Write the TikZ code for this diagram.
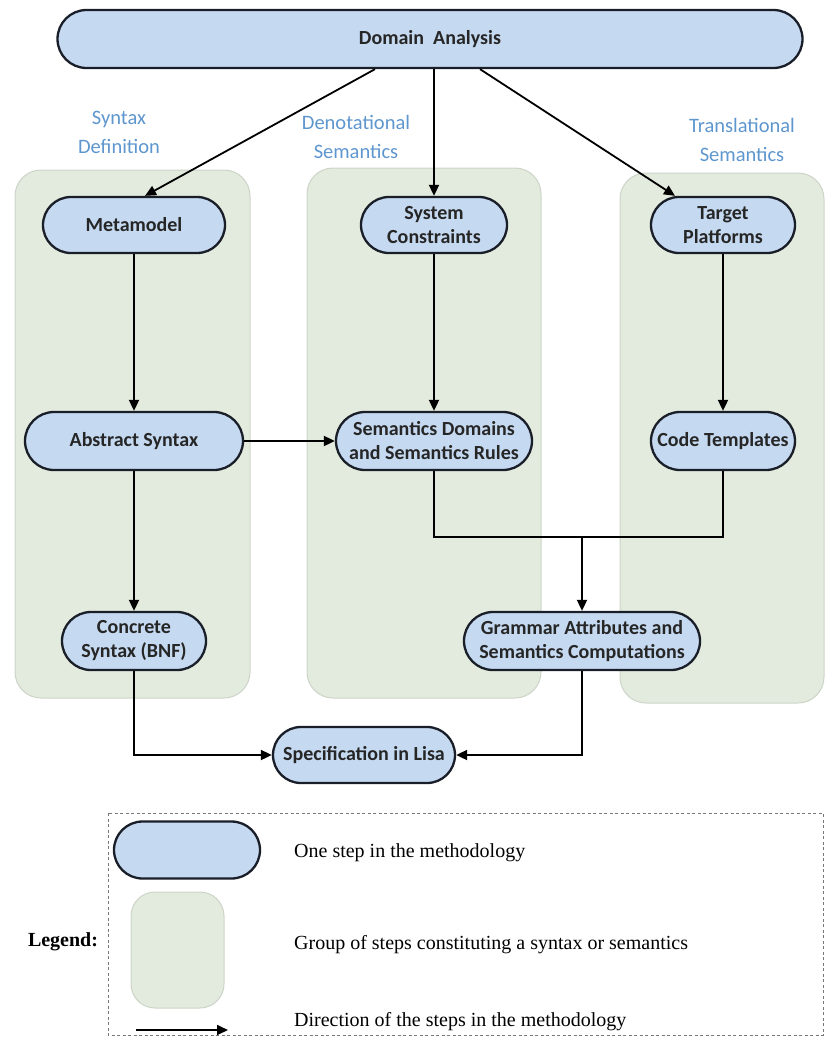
\documentclass[tikz,border=0pt]{standalone}
\usepackage{fontspec}
\setmainfont{Liberation Serif}
\newfontfamily\stepfont{Carlito}
\usetikzlibrary{arrows.meta,shapes.misc,calc}

\definecolor{stepfill}{RGB}{197,217,240}
\definecolor{stepline}{RGB}{25,30,40}
\definecolor{groupfill}{RGB}{226,235,221}
\definecolor{groupline}{RGB}{205,212,200}
\definecolor{grouplabel}{RGB}{94,150,206}
\definecolor{legendline}{RGB}{120,120,120}

\begin{document}
\begin{tikzpicture}[x=1pt,y=-1pt,
  stepnode/.style={rounded rectangle, draw=stepline, line width=2.3pt, fill=stepfill,
    font=\stepfont\bfseries\fontsize{20}{24}\selectfont, text=black!85,
    align=center, inner sep=0pt, minimum height=56pt},
  groupbox/.style={draw=groupline, line width=1pt, fill=groupfill, rounded corners=26pt},
  grouptitle/.style={font=\stepfont\fontsize{20.5}{29}\selectfont, text=grouplabel, align=center},
  flow/.style={draw=black, line width=1.8pt, -{Triangle[length=11pt,width=10pt]}},
  link/.style={draw=black, line width=1.8pt},
  legendtext/.style={font=\fontsize{20}{24}\selectfont, anchor=west, inner sep=0pt}
]
\useasboundingbox (0,0) rectangle (826,1039);

% groups of steps
\path[groupbox] (15,170) rectangle (250,698);
\path[groupbox] (307,168) rectangle (541,698);
\path[groupbox] (620,173) rectangle (824,703);

% group titles
\node[grouptitle] (tsyn) at (119,132) {Syntax\\Definition};
\node[grouptitle] (tden) at (356,137) {Denotational\\Semantics};
\node[grouptitle] (ttra) at (742,140) {Translational\\Semantics};

% steps
\node[stepnode, minimum width=745pt, minimum height=58pt] (dom) at (430,39) {Domain\ \ Analysis};
\node[stepnode, minimum width=182pt] (meta) at (134,225) {Metamodel};
\node[stepnode, minimum width=146pt] (sys) at (434,225) {System\\Constraints};
\node[stepnode, minimum width=144pt] (tgt) at (723,225) {Target\\Platforms};
\node[stepnode, minimum width=218pt, minimum height=58pt] (abs) at (134,441) {Abstract Syntax};
\node[stepnode, minimum width=196pt, minimum height=58pt] (sem) at (434,441) {Semantics Domains\\and Semantics Rules};
\node[stepnode, minimum width=144pt, minimum height=58pt] (code) at (723,441) {Code Templates};
\node[stepnode, minimum width=144pt, minimum height=58pt] (conc) at (134,641) {Concrete\\Syntax (BNF)};
\node[stepnode, minimum width=236pt, minimum height=58pt] (gram) at (582,641) {Grammar Attributes and\\Semantics Computations};
\node[stepnode, minimum width=182pt] (spec) at (364,755) {Specification in Lisa};

% connectors
\draw[flow] ([xshift=-55pt]dom.south) -- ([xshift=11pt]meta.north);
\draw[flow] (dom.south -| sys.north) -- (sys.north);
\draw[flow] ([xshift=50pt]dom.south) -- ([xshift=-48pt]tgt.north);
\draw[flow] (meta) -- (abs);
\draw[flow] (sys) -- (sem);
\draw[flow] (tgt) -- (code);
\draw[flow] (abs) -- (sem);
\draw[flow] (abs) -- (conc);
\coordinate (join) at ($(gram.north)+(0,-74)$);
\draw[link] (sem.south) |- (join);
\draw[link] (code.south) |- (join);
\draw[flow] (join) -- (gram.north);
\draw[flow] (conc.south) |- (spec.west);
\draw[flow] (gram.south) |- (spec.east);

% legend
\draw[legendline, line width=0.8pt, dash pattern=on 3pt off 2.5pt] (108,813) rectangle (823,1035);
\node[font=\bfseries\fontsize{20}{24}\selectfont] (lgd) at (63,942) {Legend:};
\node[stepnode, minimum width=146pt, minimum height=57pt] (lstep) at (187,850) {};
\path[groupbox, rounded corners=24pt] (131,892) rectangle (224,1008);
\coordinate (la) at (136,1030);
\coordinate (lb) at (228,1030);
\draw[flow] (la) -- (lb);
\node[legendtext] (l1) at (294,853) {One step in the methodology};
\node[legendtext] (l2) at (294,945) {Group of steps constituting a syntax or semantics};
\node[legendtext] (l3) at (294,1022) {Direction of the steps in the methodology};
\end{tikzpicture}
\end{document}
